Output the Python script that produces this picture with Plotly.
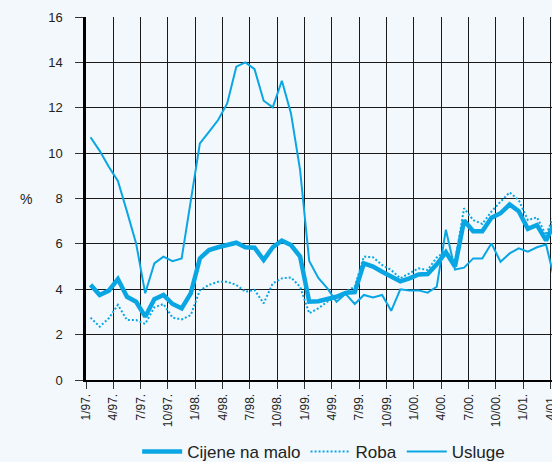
import plotly.graph_objects as go

# monthly data, 1/97 .. 4/01
months = [f"{m}/{y}." for y in ["97", "98", "99", "00", "01"] for m in range(1, 13)][:52]

cijene_na_malo = [
    4.20, 3.75, 3.94, 4.45, 3.67, 3.45, 2.79, 3.56, 3.75, 3.35, 3.16, 3.82,
    5.36, 5.73, 5.85, 5.93, 6.05, 5.85, 5.83, 5.29, 5.85, 6.14, 5.95, 5.44,
    3.45, 3.47, 3.56, 3.67, 3.84, 3.87, 5.14, 5.00, 4.77, 4.55, 4.35, 4.48,
    4.65, 4.67, 5.10, 5.63, 5.00, 7.03, 6.56, 6.56, 7.15, 7.35, 7.74, 7.44,
    6.66, 6.83, 6.15, 7.00,
]
roba = [
    2.75, 2.35, 2.72, 3.31, 2.64, 2.64, 2.47, 3.20, 3.35, 2.75, 2.67, 2.86,
    3.95, 4.19, 4.33, 4.33, 4.19, 3.89, 3.97, 3.38, 4.26, 4.48, 4.52, 4.11,
    2.94, 3.16, 3.45, 3.67, 3.89, 4.11, 5.44, 5.41, 5.07, 4.85, 4.48, 4.70,
    4.92, 4.85, 5.40, 5.70, 5.21, 7.57, 7.05, 6.88, 7.42, 7.86, 8.27, 7.93,
    7.05, 7.17, 6.39, 7.40,
]
usluge = [
    10.70, 10.10, 9.40, 8.77, 7.42, 6.02, 3.82, 5.14, 5.44, 5.24, 5.36, 8.00,
    10.43, 10.94, 11.46, 12.19, 13.81, 14.00, 13.70, 12.31, 12.02, 13.19, 11.75, 9.25,
    5.25, 4.50, 4.04, 3.45, 3.80, 3.35, 3.75, 3.64, 3.75, 3.05, 4.00, 3.95,
    3.95, 3.85, 4.11, 6.62, 4.87, 4.95, 5.36, 5.36, 6.02, 5.21, 5.58, 5.80,
    5.66, 5.85, 5.97, 4.30,
]

tick_labels = months[::3]

BLUE = "#0AA6E4"
BG = "#F3F8FC"

x = list(range(len(months)))
tick_pos = [i - 0.5 for i in range(0, len(months), 3)]

fig = go.Figure()
fig.add_trace(go.Scatter(
    x=x, y=cijene_na_malo, name="Cijene na malo", mode="lines",
    line=dict(color=BLUE, width=4.5),
))
fig.add_trace(go.Scatter(
    x=x, y=roba, name="Roba", mode="lines",
    line=dict(color=BLUE, width=2, dash="2px,2px"),
))
fig.add_trace(go.Scatter(
    x=x, y=usluge, name="Usluge", mode="lines",
    line=dict(color=BLUE, width=2),
))

fig.add_annotation(
    text="%", xref="paper", yref="paper", x=-0.146, y=0.5,
    showarrow=False, font=dict(size=14, color="#222"),
)

fig.update_xaxes(
    range=[-0.5, 50.65], automargin=False,
    tickvals=tick_pos, ticktext=tick_labels, tickangle=-90,
    ticklabeloverflow="allow",
    showgrid=True, gridcolor="#1a1a1a", gridwidth=1,
    showline=True, linecolor="black", linewidth=2,
    ticks="outside", ticklen=7, tickcolor="#333", tickwidth=1,
    tickfont=dict(size=12, color="#222"),
    zeroline=False,
)
fig.update_yaxes(
    range=[0, 16], dtick=2, automargin=False,
    showgrid=True, gridcolor="#1a1a1a", gridwidth=1,
    showline=True, linecolor="black", linewidth=2.5,
    ticks="outside", ticklen=8, tickcolor="#333", tickwidth=1,
    tickfont=dict(size=13, color="#222"),
    ticklabelstandoff=10,
    zeroline=False,
)

fig.update_layout(
    width=552, height=462,
    margin=dict(l=86, r=0, t=17, b=82),
    paper_bgcolor=BG, plot_bgcolor=BG,
    font=dict(family="Liberation Sans, Arial, sans-serif", color="#222"),
    showlegend=True,
    legend=dict(
        orientation="h", x=0.51, xanchor="center",
        yref="container", y=0.022, yanchor="middle",
        font=dict(size=17, color="#222"), bgcolor="rgba(0,0,0,0)",
        itemwidth=40,
    ),
)

# drop the default page margin so the figure sits at the window's corner
fig.write_html(
    "out.html",
    config={"displayModeBar": False},
    post_script="document.body.style.margin='0';",
)
